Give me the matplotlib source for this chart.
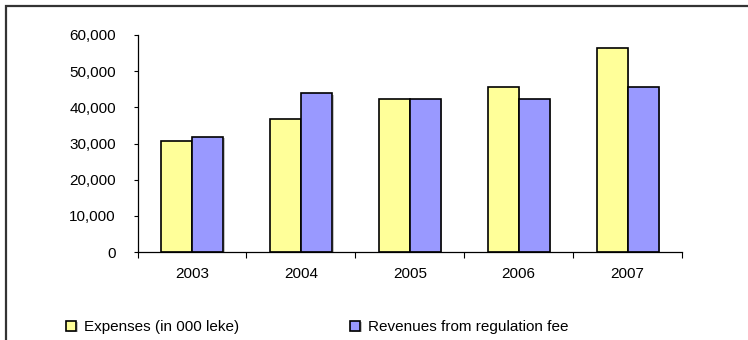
import matplotlib.pyplot as plt
import matplotlib.patheffects as pe
from matplotlib.patches import Rectangle
from matplotlib.ticker import FuncFormatter
import numpy as np

plt.rcParams['font.family'] = ['Liberation Sans', 'DejaVu Sans']

years = ['2003', '2004', '2005', '2006', '2007']
expenses = [30800, 36800, 42400, 45600, 56300]
revenues = [31900, 44000, 42400, 42400, 45600]

fs = 11

fig = plt.figure(figsize=(7.48, 3.40), dpi=100)

# chart border (top and left edges show, the rest runs off the page)
fig.patches.append(Rectangle((5.5 / 748, -0.1), 1.2, 1 - 5.5 / 340 + 0.1,
                             transform=fig.transFigure, fill=False,
                             edgecolor='#333333', linewidth=1.6))

ax = fig.add_axes([137.5 / 748, 88 / 340, 544.5 / 748, 217 / 340])

x = np.arange(len(years))
w = 0.285
shadow = [pe.SimplePatchShadow(offset=(1.2, -1.2), shadow_rgbFace='#888888', alpha=0.5), pe.Normal()]
b1 = ax.bar(x - w / 2, expenses, w, color='#FFFF99', edgecolor='black', linewidth=1.2,
            label='Expenses (in 000 leke)', path_effects=shadow)
b2 = ax.bar(x + w / 2, revenues, w, color='#9999FF', edgecolor='black', linewidth=1.2,
            label='Revenues from regulation fee', path_effects=shadow)

ax.set_xlim(-0.5, len(years) - 0.5)
ax.set_ylim(0, 60000)
ax.set_yticks(range(0, 60001, 10000))
ax.yaxis.set_major_formatter(FuncFormatter(lambda v, p: f'{int(v):,}'))

ax.set_xticks(x)
ax.set_xticklabels(years)
ax.set_xticks(np.arange(-0.5, len(years)), minor=True)
ax.tick_params(axis='x', which='major', length=0, pad=11, labelsize=fs)
ax.tick_params(axis='x', which='minor', length=4, width=0.8, color='black', direction='out')
ax.tick_params(axis='y', length=3, width=0.8, pad=12.5, labelsize=fs)

for s in ['top', 'right']:
    ax.spines[s].set_visible(False)
for s in ['left', 'bottom']:
    ax.spines[s].set_linewidth(0.9)

fig.legend(handles=[b1, b2], loc='center left', bbox_to_anchor=(66 / 748, 1 - 327 / 340),
           ncol=2, frameon=False, fontsize=fs, borderpad=0, borderaxespad=0,
           handlelength=0.65, handleheight=0.65, handletextpad=0.5, columnspacing=7.3)

fig.savefig('out.png', dpi=100)
